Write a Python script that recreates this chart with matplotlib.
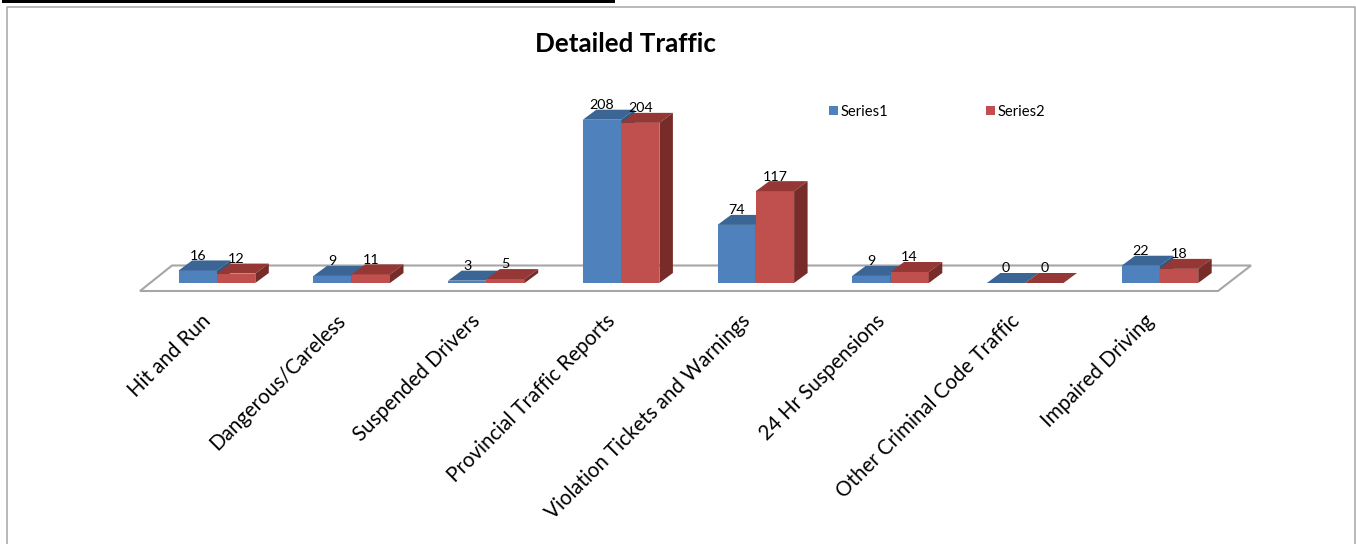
import matplotlib
matplotlib.use("Agg")
import matplotlib.pyplot as plt
from matplotlib.patches import Polygon, Rectangle

categories = ["Hit and Run", "Dangerous/Careless", "Suspended Drivers",
              "Provincial Traffic Reports", "Violation Tickets and Warnings",
              "24 Hr Suspensions", "Other Criminal Code Traffic", "Impaired Driving"]
series1 = [16, 9, 3, 208, 74, 9, 0, 22]
series2 = [12, 11, 5, 204, 117, 14, 0, 18]
title = "Detailed Traffic"

W, H = 1356, 544
PX_X = 134.7      # pixels per category
PX_Y = 0.785      # pixels per value unit
X0 = 217.0        # pixel of category 0 centre
Y0 = 283.0        # pixel of value 0

def xp(px):
    return (px - X0) / PX_X
def yp(py):
    return (Y0 - py) / PX_Y

plt.rcParams["font.family"] = ["Lato", "DejaVu Sans"]
fig = plt.figure(figsize=(W / 100, H / 100), dpi=100, facecolor="white")
ax = fig.add_axes([0, 0, 1, 1])
ax.set_xlim(xp(0), xp(W))
ax.set_ylim(yp(H), yp(0))
ax.axis("off")

# outer frame and top rule
ax.plot([xp(6.5), xp(6.5), xp(1355), xp(1355)], [yp(H), yp(6.5), yp(6.5), yp(H)],
        color="#a6a6a6", lw=1.1, zorder=1)
ax.add_patch(Rectangle((xp(2), yp(3)), xp(615) - xp(2), yp(0) - yp(3),
                       facecolor="black", edgecolor="none", zorder=1))

# floor of the 3-D plot
ax.add_patch(Polygon([(xp(140), yp(291)), (xp(1218), yp(291)), (xp(1251), yp(265.5)), (xp(172), yp(265.5))],
                     closed=True, facecolor="white", edgecolor="#a6a6a6", lw=1.5, zorder=2))

bw = 38.3 / PX_X
dx = 13.5 / PX_X
dy = 10.0 / PX_Y

STYLES = [("#4f81bd", "#3b6595", "#33567f"), ("#c0504d", "#953735", "#772c2a")]

for k, (vals, name) in enumerate(((series1, "Series1"), (series2, "Series2"))):
    front, top, side = STYLES[k]
    pos = [i + (k - 1) * bw for i in range(len(vals))]
    z = 3 + k
    ax.bar(pos, vals, width=bw, align="edge", color=front, edgecolor="none", zorder=z, label=name)
    for p, v in zip(pos, vals):
        ax.add_patch(Polygon([(p, v), (p + bw, v), (p + bw + dx, v + dy), (p + dx, v + dy)],
                             closed=True, facecolor=top, edgecolor="none", zorder=z))
        ax.add_patch(Polygon([(p + bw, 0), (p + bw + dx, dy), (p + bw + dx, v + dy), (p + bw, v)],
                             closed=True, facecolor=side, edgecolor="none", zorder=z))
        ax.annotate(str(v), (p + bw / 2, v), xytext=(0, 10.5), textcoords="offset points",
                    ha="center", va="center", fontsize=10.3, color="black", zorder=6)

for i, c in enumerate(categories):
    ax.text(xp(X0 + i * PX_X - 16), yp(310.5), c, rotation=45, rotation_mode="anchor",
            ha="right", va="top", fontsize=14.8, color="black", zorder=6)

ax.text(xp(625), yp(44), title, ha="center", va="center", fontsize=18.7,
        fontweight="bold", color="black", zorder=6)

handles, labels = ax.get_legend_handles_labels()
ax.legend(handles, labels, ncol=2, loc="center left", bbox_to_anchor=(829 / W, 1 - 111.5 / H),
          frameon=False, fontsize=10.6, handlelength=0.62, handleheight=0.62, handletextpad=0.2,
          columnspacing=6.6, borderpad=0, borderaxespad=0)

fig.savefig("out.png", dpi=100)
